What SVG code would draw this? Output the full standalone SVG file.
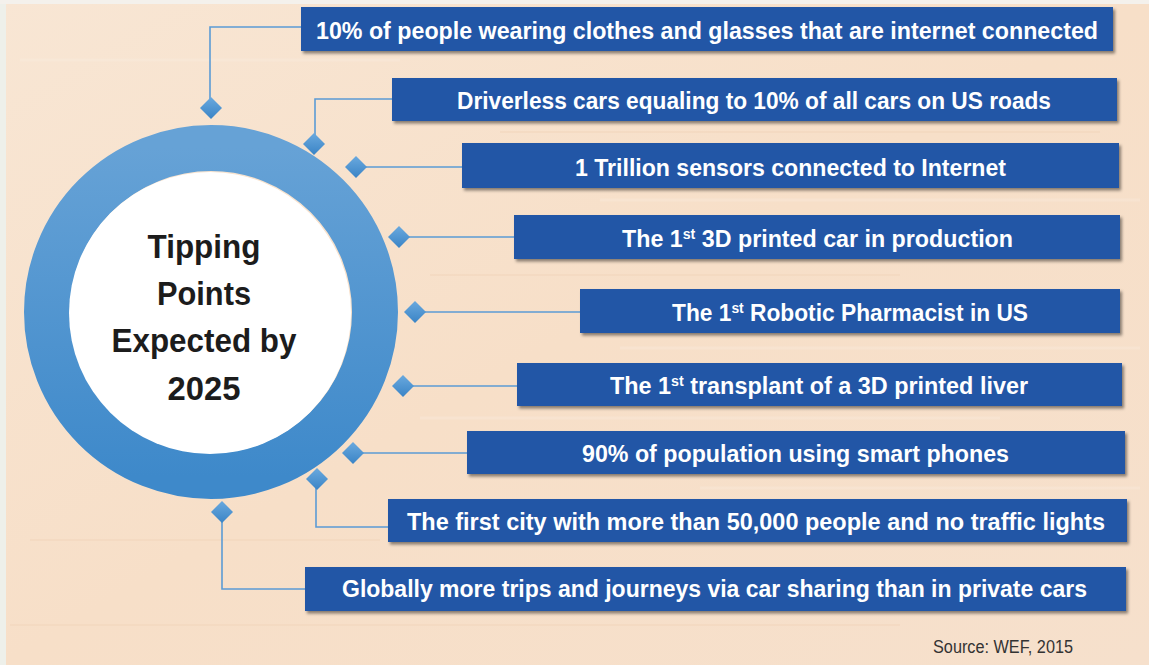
<svg xmlns="http://www.w3.org/2000/svg" width="1149" height="665" viewBox="0 0 1149 665">
<defs>
<linearGradient id="bg" x1="0" y1="0" x2="1" y2="1">
<stop offset="0" stop-color="#f8e6d4"/>
<stop offset="0.5" stop-color="#f7dfc8"/>
<stop offset="1" stop-color="#f6e0cc"/>
</linearGradient>
<linearGradient id="ring" x1="0" y1="0" x2="0" y2="1">
<stop offset="0" stop-color="#66a2d6"/>
<stop offset="1" stop-color="#3e89ca"/>
</linearGradient>
<linearGradient id="dia" x1="0" y1="0" x2="0" y2="1">
<stop offset="0" stop-color="#6aa9de"/>
<stop offset="1" stop-color="#3a84c6"/>
</linearGradient>
<filter id="sh" x="-5%" y="-20%" width="110%" height="150%">
<feDropShadow dx="2" dy="2.5" stdDeviation="1.5" flood-color="#000" flood-opacity="0.45"/>
</filter>
<path id="d" d="M0,-11 L11,0 L0,11 L-11,0 Z"/>
</defs>
<style>
.box{fill:#2156a6;filter:url(#sh)}
.lbl{font-family:"Liberation Sans",Arial,sans-serif;font-weight:bold;font-size:23px;fill:#ffffff;text-anchor:middle}
.sup{font-size:14px}
.ctr{font-family:"Liberation Sans",Arial,sans-serif;font-weight:bold;font-size:33px;fill:#1c1c1c;text-anchor:middle}
.con{fill:none;stroke:#5b9bd5;stroke-width:1.6}
.dm{fill:url(#dia)}
.src{font-family:"Liberation Sans",Arial,sans-serif;font-size:18px;fill:#333333}
.streak{stroke:#fbefe3;stroke-width:3;opacity:0.3}
.streak2{stroke:#f2d3b8;stroke-width:2;opacity:0.4}
</style>
<rect x="0" y="0" width="1149" height="665" fill="url(#bg)"/>
<rect x="0" y="0" width="6" height="665" fill="#eef0ea"/>
<rect x="0" y="0" width="1149" height="4" fill="#f4f1ec"/>
<g id="background-streaks">
<line class="streak" x1="20" y1="60" x2="400" y2="60"/>
<line class="streak2" x1="500" y1="132" x2="1100" y2="132"/>
<line class="streak" x1="600" y1="200" x2="1140" y2="200"/>
<line class="streak2" x1="430" y1="275" x2="900" y2="275"/>
<line class="streak" x1="620" y1="348" x2="1140" y2="348"/>
<line class="streak2" x1="30" y1="540" x2="380" y2="540"/>
<line class="streak" x1="420" y1="418" x2="1000" y2="418"/>
<line class="streak2" x1="10" y1="625" x2="900" y2="625"/>
<line class="streak" x1="700" y1="488" x2="1140" y2="488"/>
</g>

<g id="connectors">
<polyline class="con" points="301,27 210,27 210,108"/>
<polyline class="con" points="392,99 315,99 315,144"/>
<polyline class="con" points="462,167 356,167"/>
<polyline class="con" points="514,237 399,237"/>
<polyline class="con" points="580,312 415,312"/>
<polyline class="con" points="517,386 403,386"/>
<polyline class="con" points="467,453 353,453"/>
<polyline class="con" points="316,479 316,527 388,527"/>
<polyline class="con" points="222,512 222,589 305,589"/>
</g>

<g id="center">
<circle cx="211" cy="312" r="164" fill="none" stroke="url(#ring)" stroke-width="46"/>
<circle cx="210" cy="313" r="141" fill="#ffffff"/>
<text class="ctr" x="204" y="258" textLength="113" lengthAdjust="spacingAndGlyphs">Tipping</text>
<text class="ctr" x="204" y="305" textLength="94" lengthAdjust="spacingAndGlyphs">Points</text>
<text class="ctr" x="204" y="352" textLength="185" lengthAdjust="spacingAndGlyphs">Expected by</text>
<text class="ctr" x="204" y="400" textLength="73" lengthAdjust="spacingAndGlyphs">2025</text>
</g>

<g id="diamonds">
<use href="#d" class="dm" x="211" y="108"/>
<use href="#d" class="dm" x="314" y="144"/>
<use href="#d" class="dm" x="356" y="167"/>
<use href="#d" class="dm" x="399" y="237"/>
<use href="#d" class="dm" x="415" y="312"/>
<use href="#d" class="dm" x="403" y="386"/>
<use href="#d" class="dm" x="353" y="453"/>
<use href="#d" class="dm" x="317" y="479"/>
<use href="#d" class="dm" x="222" y="512"/>
</g>

<g id="node1">
<rect class="box" x="301" y="7" width="812" height="44"/>
<text class="lbl" x="707" y="39" textLength="782" lengthAdjust="spacingAndGlyphs">10% of people wearing clothes and glasses that are internet connected</text>
</g>
<g id="node2">
<rect class="box" x="392" y="78" width="725" height="43"/>
<text class="lbl" x="754" y="109" textLength="594" lengthAdjust="spacingAndGlyphs">Driverless cars equaling to 10% of all cars on US roads</text>
</g>
<g id="node3">
<rect class="box" x="462" y="143" width="657" height="45"/>
<text class="lbl" x="790.5" y="175.5" textLength="431" lengthAdjust="spacingAndGlyphs">1 Trillion sensors connected to Internet</text>
</g>
<g id="node4">
<rect class="box" x="514" y="215" width="606" height="44"/>
<text class="lbl" x="817.5" y="246.5" textLength="391" lengthAdjust="spacingAndGlyphs">The 1<tspan class="sup" dy="-8">st</tspan><tspan dy="8"> 3D printed car in production</tspan></text>
</g>
<g id="node5">
<rect class="box" x="580" y="289" width="540" height="44"/>
<text class="lbl" x="850" y="320.5" textLength="356" lengthAdjust="spacingAndGlyphs">The 1<tspan class="sup" dy="-8">st</tspan><tspan dy="8"> Robotic Pharmacist in US</tspan></text>
</g>
<g id="node6">
<rect class="box" x="517" y="363" width="605" height="43"/>
<text class="lbl" x="819" y="393.5" textLength="418" lengthAdjust="spacingAndGlyphs">The 1<tspan class="sup" dy="-8">st</tspan><tspan dy="8"> transplant of a 3D printed liver</tspan></text>
</g>
<g id="node7">
<rect class="box" x="467" y="431" width="658" height="43"/>
<text class="lbl" x="795.5" y="462" textLength="427" lengthAdjust="spacingAndGlyphs">90% of population using smart phones</text>
</g>
<g id="node8">
<rect class="box" x="388" y="499" width="739" height="43"/>
<text class="lbl" x="756" y="530" textLength="698" lengthAdjust="spacingAndGlyphs">The first city with more than 50,000 people and no traffic lights</text>
</g>
<g id="node9">
<rect class="box" x="305" y="567" width="821" height="44"/>
<text class="lbl" x="714.5" y="597" textLength="745" lengthAdjust="spacingAndGlyphs">Globally more trips and journeys via car sharing than in private cars</text>
</g>

<text class="src" x="933" y="653" textLength="140" lengthAdjust="spacingAndGlyphs">Source: WEF, 2015</text>
</svg>
